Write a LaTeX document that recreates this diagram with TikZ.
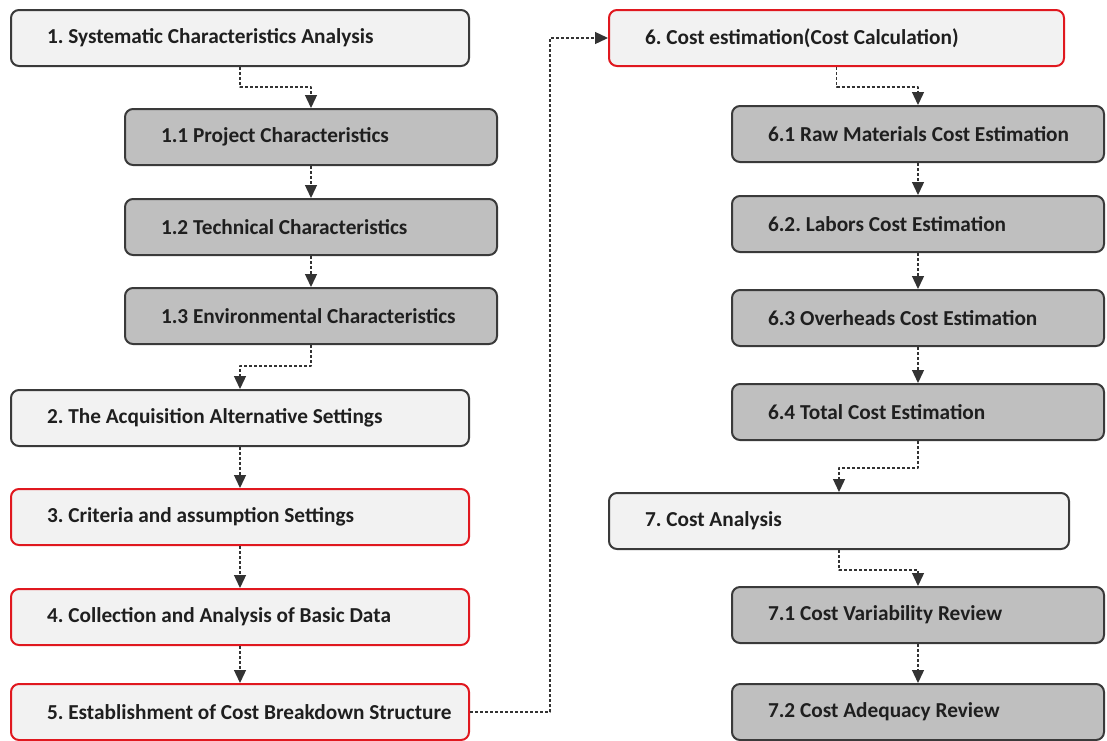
\documentclass[tikz,border=0pt]{standalone}
\usepackage{fontspec}
\setmainfont{Carlito}
\usetikzlibrary{arrows.meta}
\definecolor{lightfill}{HTML}{F2F2F2}
\definecolor{darkfill}{HTML}{BFBFBF}
\definecolor{boxline}{HTML}{3A3A3A}
\definecolor{redline}{HTML}{E0181F}
\definecolor{txt}{HTML}{1F1F1F}
\definecolor{connc}{HTML}{333333}
\hbadness=10000 \hfuzz=200pt
\begin{document}
\begin{tikzpicture}[x=1pt, y=1pt, line join=round, >={Triangle[length=13pt,width=12pt]},
	box/.style={draw=boxline, line width=2pt, rounded corners=8pt, anchor=north west,
		minimum height=56pt, inner xsep=36pt, text=txt,
		font=\bfseries\fontsize{21.3}{25}\selectfont\frenchspacing},
	boxw/.style={execute at begin node={\hbox to #1\bgroup},
		execute at end node={\hss\egroup}},
	light/.style={box, fill=lightfill, boxw=#1},
	dark/.style={box, fill=darkfill, boxw=#1},
	redbox/.style={light=#1, draw=redline},
	conn/.style={->, dash pattern=on 3pt off 2pt, line width=1.3pt, draw=connc}]
	\def\wa{386pt} % wide boxes
	\def\wb{300pt} % sub steps
	\useasboundingbox (0,0) rectangle (1107,-740);
	% left column
	\node[light=\wa] (b1) at (10,-9) {1. Systematic Characteristics Analysis};
	\node[dark=\wb] (b11) at (124,-108) {1.1 Project Characteristics};
	\node[dark=\wb] (b12) at (124,-198) {1.2 Technical Characteristics};
	\node[dark=\wb] (b13) at (124,-287) {1.3 Environmental Characteristics};
	\node[light=\wa] (b2) at (10,-389) {2. The Acquisition Alternative Settings};
	\node[redbox=\wa] (b3) at (10,-488) {3. Criteria and assumption Settings};
	\node[redbox=\wa] (b4) at (10,-588) {4. Collection and Analysis of Basic Data};
	\node[redbox=\wa] (b5) at (10,-683) {5. Establishment of Cost Breakdown Structure};
	% right column
	\node[redbox=383pt] (b6) at (608,-9) {6. Cost estimation(Cost Calculation)};
	\node[dark=\wb] (b61) at (731,-105) {6.1 Raw Materials Cost Estimation};
	\node[dark=\wb] (b62) at (731,-195) {6.2. Labors Cost Estimation};
	\node[dark=\wb] (b63) at (731,-289) {6.3 Overheads Cost Estimation};
	\node[dark=\wb] (b64) at (731,-383) {6.4 Total Cost Estimation};
	\node[light=388pt] (b7) at (608,-492) {7. Cost Analysis};
	\node[dark=\wb] (b71) at (731,-586) {7.1 Cost Variability Review};
	\node[dark=\wb] (b72) at (731,-683) {7.2 Cost Adequacy Review};
	% connectors
	\draw[conn] (b1.south) -- ++(0,-20) -| (b11.north);
	\draw[conn] (b11) -- (b12);
	\draw[conn] (b12) -- (b13);
	\draw[conn] (b13.south) -- ++(0,-21) -| (b2.north);
	\draw[conn] (b2) -- (b3);
	\draw[conn] (b3) -- (b4);
	\draw[conn] (b4) -- (b5);
	\draw[conn] (b5.east) -- ++(80,0) |- (b6.west);
	\draw[conn] (b6.south) -- ++(0,-20) -| (b61.north);
	\draw[conn] (b61) -- (b62);
	\draw[conn] (b62) -- (b63);
	\draw[conn] (b63) -- (b64);
	\draw[conn] (b64.south) -- ++(0,-27) -| (b7.north);
	\draw[conn] (b7.south) -- ++(0,-20) -| (b71.north);
	\draw[conn] (b71) -- (b72);
\end{tikzpicture}
\end{document}
